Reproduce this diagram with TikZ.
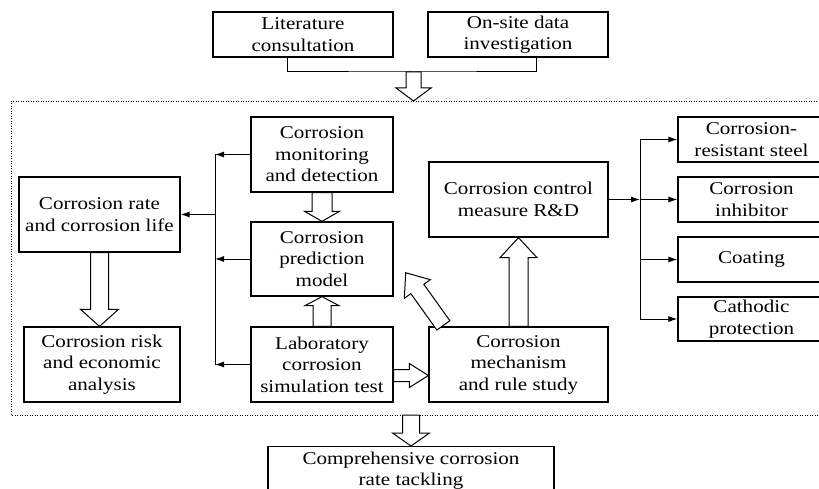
\documentclass[tikz,border=0pt]{standalone}
\usepackage{fontspec}
\setmainfont{Liberation Serif}[FakeStretch=1.17]
\usetikzlibrary{arrows.meta,calc}

% open block arrow from #1 to #2: stem half width #3, head half width #4, head length #5
\newcommand{\fatarrow}[5]{%
  \draw[fat] let \p1=(#1), \p2=(#2), \n1={atan2(\y2-\y1,\x2-\x1)}, \n2={veclen(\x2-\x1,\y2-\y1)} in
    [shift={(\p1)},rotate=\n1] (0,-#3) -- ({\n2-#5},-#3) -- ({\n2-#5},-#4) -- (\n2,0)
    -- ({\n2-#5},#4) -- ({\n2-#5},#3) -- (0,#3) -- cycle;}

\begin{document}
\begin{tikzpicture}[x=1pt,y=-1pt,
  box/.style={draw,line width=1.3pt,align=center,inner sep=0pt,font=\fontsize{18}{21.5}\selectfont},
  link/.style={line width=1pt},
  arr/.style={line width=1pt,-{Latex[length=9pt,width=6pt]}},
  fat/.style={line width=1pt,fill=white,line join=miter}]
\useasboundingbox (0,0) rectangle (819,489);
\clip (0,0) rectangle (819,489);
\draw[line width=0.9pt,dash pattern=on 1pt off 1.5pt] (11,101) rectangle (830,415);
\coordinate (ftop) at (0,101);
\coordinate (fbot) at (0,415);

\node[box,minimum width=180,minimum height=45] (lit) at (303,34.5) {Literature\\consultation};
\node[box,minimum width=180,minimum height=45] (site) at (518,34.5) {On-site data\\investigation};

\node[box,minimum width=161,minimum height=75] (rate) at (99.5,214.5) {Corrosion rate\\and corrosion life};
\node[box,minimum width=156,minimum height=75] (risk) at (102,364.5) {Corrosion risk\\and economic\\analysis};
\node[box,minimum width=142,minimum height=75] (mon) at (322,154.5) {Corrosion\\monitoring\\and detection};
\node[box,minimum width=142,minimum height=74] (pred) at (322,259) {Corrosion\\prediction\\model};
\node[box,minimum width=142,minimum height=75] (lab) at (322,364.5) {Laboratory\\corrosion\\simulation test};
\node[box,minimum width=179,minimum height=75] (ctrl) at (518.5,199.5) {Corrosion control\\measure R\&D};
\node[box,minimum width=179,minimum height=75] (mech) at (518.5,364.5) {Corrosion\\mechanism\\and rule study};

\node[box,minimum width=147,minimum height=45] (steel) at (751.5,139.5) {Corrosion-\\resistant steel};
\node[box,minimum width=147,minimum height=45] (inh) at (751.5,199.5) {Corrosion\\inhibitor};
\node[box,minimum width=147,minimum height=45] (coat) at (751.5,259.5) {Coating};
\node[box,minimum width=147,minimum height=44] (cath) at (751.5,319) {Cathodic\\protection};

\node[box,anchor=north,minimum width=286,inner ysep=5pt] (comp) at (411,446) {Comprehensive corrosion\\rate tackling};

\coordinate (join) at (413.5,72);
\draw[link] ([xshift=-16pt]lit.south) |- (join) -| ([xshift=18pt]site.south);
\fatarrow{join}{join |- ftop}{7.5}{17.5}{13}

\coordinate (lbus) at (215,0);
\draw[link] (mon.west -| lbus) -- (lab.west -| lbus);
\draw[arr] (mon.west) -- (mon.west -| lbus);
\draw[arr] (pred.west) -- (pred.west -| lbus);
\draw[arr] (lab.west) -- (lab.west -| lbus);
\draw[arr] (rate.east -| lbus) -- (rate.east);

\fatarrow{rate.south}{rate.south |- risk.north}{9}{19}{17}
\fatarrow{mon.south}{pred.north}{10}{17.5}{10}
\fatarrow{lab.north}{pred.south}{9}{17}{9}
\coordinate (labout) at ([yshift=-11pt]lab.east);
\fatarrow{labout}{labout -| mech.west}{6}{12}{19}
\fatarrow{mech.north}{ctrl.south}{9.5}{18.5}{20}
\coordinate (mechtail) at ([xshift=15pt,yshift=1pt]mech.north west);
\coordinate (predtip) at ([xshift=12pt,yshift=24pt]pred.south east);
\fatarrow{mechtail}{predtip}{8}{16}{20}

\coordinate (rbus) at (640,0);
\draw[arr] (ctrl.east) -- (ctrl.east -| rbus);
\draw[link] (steel.west -| rbus) -- (cath.west -| rbus);
\foreach \b in {steel,inh,coat,cath}
  \draw[arr] (\b.west -| rbus) -- (\b.west);

\fatarrow{comp.north |- fbot}{comp.north}{8.5}{18.5}{13}
\end{tikzpicture}
\end{document}
